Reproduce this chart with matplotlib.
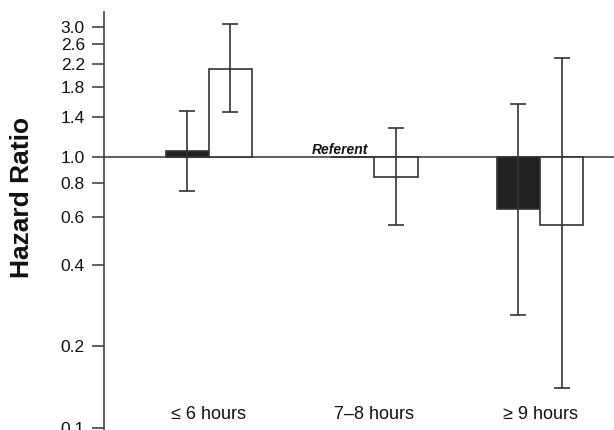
import matplotlib
matplotlib.use('Agg')
import matplotlib.pyplot as plt
import matplotlib.ticker as mticker
import matplotlib.transforms as mtransforms
import numpy as np

plt.rcParams['font.family'] = ['Liberation Sans', 'DejaVu Sans']

# hazard ratios (black / white bars per sleep group)
groups = ['\u2264 6 hours', '7\u20138 hours', '\u2265 9 hours']
black_hr = [1.05, 1.0, 0.64]
black_lo = [0.75, np.nan, 0.26]
black_hi = [1.47, np.nan, 1.56]
white_hr = [2.11, 0.84, 0.56]
white_lo = [1.46, 0.56, 0.14]
white_hi = [3.07, 1.27, 2.30]
yticks = [0.1, 0.2, 0.4, 0.6, 0.8, 1.0, 1.4, 1.8, 2.2, 2.6, 3.0]

x = np.arange(len(groups))
w = 0.26
edge = '#333333'

fig = plt.figure(figsize=(6.14, 4.30), dpi=100)
ax = fig.add_axes([0.1694, 0.0, 0.8306, 0.972])
ax.set_yscale('log')

def draw(xpos, hr, lo, hi, color):
    hr = np.array(hr)
    ax.bar(xpos, hr - 1, bottom=1, width=w, color=color, edgecolor=edge,
           linewidth=1.2, zorder=2)
    lo = np.array(lo)
    hi = np.array(hi)
    ok = ~np.isnan(lo)
    err = np.vstack([hr[ok] - lo[ok], hi[ok] - hr[ok]])
    ax.errorbar(xpos[ok], hr[ok], yerr=err, fmt='none', ecolor=edge,
                elinewidth=1.2, capsize=6, capthick=1.2, zorder=3)

draw(x - w / 2, black_hr, black_lo, black_hi, '#222222')
# referent bar has no height, only the white one shows in the middle group
draw(x + w / 2, white_hr, white_lo, white_hi, 'white')

ax.axhline(1.0, color='#444444', linewidth=1.2, zorder=1)

ax.text(x[1] - 0.04, 1.0, 'Referent', ha='right', va='bottom',
        fontsize=10, fontweight='bold', style='italic', color='#111111')

trans = mtransforms.blended_transform_factory(ax.transData, ax.transAxes)
for xi, g in zip(x, groups):
    ax.text(xi, 0.038, g, transform=trans, ha='center', va='center',
            fontsize=13, color='#111111')

ax.set_xlim(-0.634, 2.447)
ax.set_ylim(0.0983, 3.41)
ax.set_xticks([])
ax.yaxis.set_major_locator(mticker.FixedLocator(yticks))
ax.yaxis.set_major_formatter(mticker.FormatStrFormatter('%.1f'))
ax.yaxis.set_minor_locator(mticker.NullLocator())
ax.tick_params(axis='y', length=9, width=1.2, color='#444444', pad=4.8,
               labelsize=12.5, labelcolor='#111111')

for s in ['top', 'right', 'bottom']:
    ax.spines[s].set_visible(False)
ax.spines['left'].set_color('#444444')
ax.spines['left'].set_linewidth(1.2)

ax.set_ylabel('Hazard Ratio', fontsize=19, fontweight='bold',
              color='#111111')
ax.yaxis.set_label_coords(-0.137, 0.557)

plt.savefig('out.png', dpi=100)
